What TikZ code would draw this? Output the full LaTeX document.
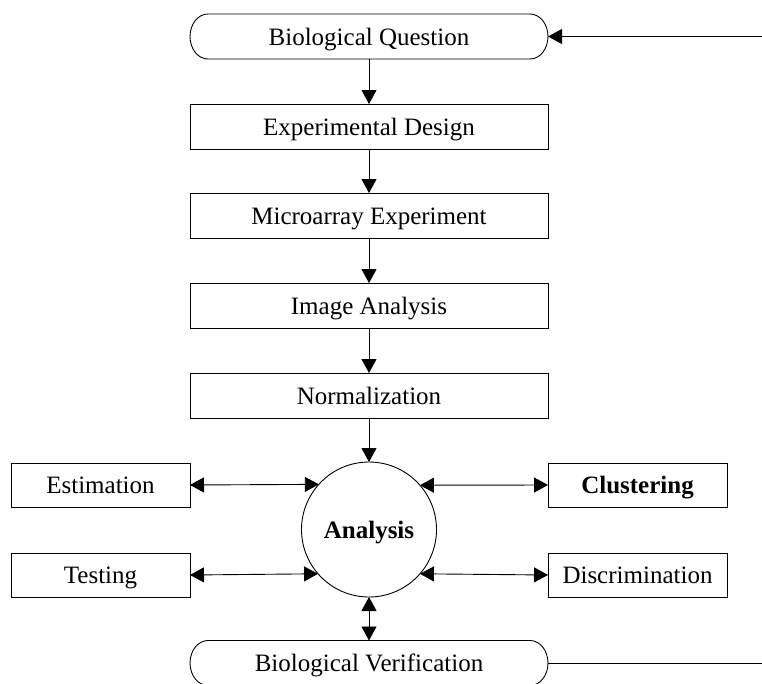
\documentclass[tikz,border=0pt]{standalone}
\usepackage{fontspec}
\setmainfont{Liberation Serif}
\usetikzlibrary{arrows.meta}
\tikzset{
  ln/.style={line width=0.9pt, draw=black},
  tip/.tip={Triangle[length=14pt,width=15pt]},
  arr/.style={ln, -tip},
  darr/.style={ln, tip-tip},
  txt/.style={font=\fontsize{25}{30}\selectfont, inner sep=0pt, outer sep=0pt, text height=18pt, text depth=1pt},
  mainbox/.style={txt, draw, line width=0.9pt, minimum width=358pt, minimum height=45pt},
  sidebox/.style={txt, draw, line width=0.9pt, minimum width=179pt, minimum height=44pt},
  termbox/.style={txt, minimum width=358pt, minimum height=45pt},
  hub/.style={txt, draw, line width=0.9pt, circle, minimum size=135pt},
}
\newcommand{\termoutline}[1]{%
  \draw[ln] ([xshift=18pt]#1.north west) -- ([xshift=-18pt]#1.north east)
    arc[start angle=90, end angle=-90, x radius=18pt, y radius=22.5pt]
    -- ([xshift=18pt]#1.south west)
    arc[start angle=270, end angle=90, x radius=18pt, y radius=22.5pt] -- cycle;}
\begin{document}
\begin{tikzpicture}[x=1pt,y=-1pt]
\useasboundingbox (0,0) rectangle (762,683);
\node[termbox] (bq) at (369,36.5) {Biological Question};
\termoutline{bq}
\node[mainbox] (ed) at (369,126.5) {Experimental Design};
\node[mainbox] (ma) at (369,215.5) {Microarray Experiment};
\node[mainbox] (ia) at (369,305.5) {Image Analysis};
\node[mainbox] (no) at (369,395.5) {Normalization};
\node[hub] (an) at (369,529.5) {\textbf{Analysis}};
\node[sidebox] (es) at (100.5,485) {Estimation};
\node[sidebox] (te) at (100.5,575) {Testing};
\node[sidebox] (cl) at (637.5,485) {\textbf{Clustering}};
\node[sidebox] (di) at (637.5,575) {Discrimination};
\node[termbox] (bv) at (369,663) {Biological Verification};
\termoutline{bv}
\coordinate (rt) at (762,36.5);
\coordinate (rb) at (762,663);

\draw[arr] (bq) -- (ed);
\draw[arr] (ed) -- (ma);
\draw[arr] (ma) -- (ia);
\draw[arr] (ia) -- (no);
\draw[arr] (no) -- (an);
\draw[darr] (es.east) -- (an.138.8);
\draw[darr] (te.east) -- (an.221.2);
\draw[darr] (an.41.2) -- (cl.west);
\draw[darr] (an.-41.2) -- (di.west);
\draw[darr] (an) -- (bv);
\draw[arr] (rt) -- (bq.east);
\draw[ln] (bv.east) -- (rb);
\end{tikzpicture}
\end{document}
